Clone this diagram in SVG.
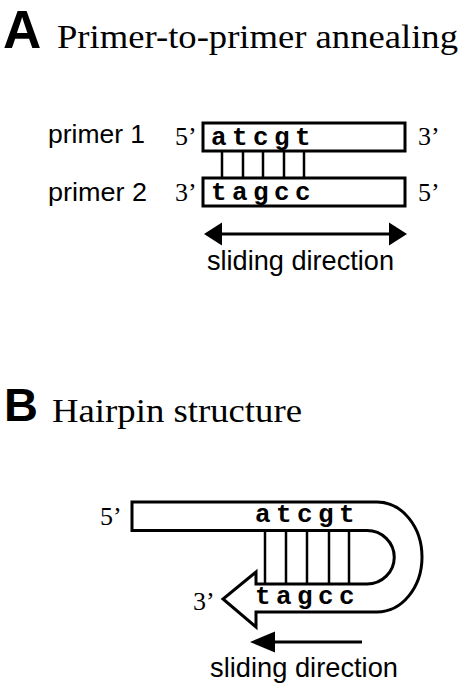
<svg xmlns="http://www.w3.org/2000/svg" width="476" height="692" viewBox="0 0 476 692">
<style>
.hd{font-family:"Liberation Sans",Arial,sans-serif;font-weight:bold;fill:#000}
.ti{font-family:"Liberation Serif","Times New Roman",serif;fill:#000}
.lb{font-family:"Liberation Sans",Arial,sans-serif;fill:#000}
.sq{font-family:"Liberation Mono","Courier New",monospace;font-weight:bold;font-size:26px;letter-spacing:5.4px;fill:#000}
.end{font-family:"Liberation Serif","Times New Roman",serif;font-size:26px;fill:#000}
.box{fill:#fff;stroke:#000;stroke-width:3}
.bond{stroke:#000;stroke-width:2.5}
.arr{stroke:#000;stroke-width:3;fill:none}
.head{fill:#000}
</style>
<rect width="476" height="692" fill="#fff"/>
<g id="panelA-title">
<text class="hd" x="3" y="48" font-size="53">A</text>
<text class="ti" x="57" y="48" font-size="34" textLength="401" lengthAdjust="spacingAndGlyphs">Primer-to-primer annealing</text>
</g>
<g id="primer1">
<text class="lb" x="48" y="143" font-size="26" textLength="97" lengthAdjust="spacingAndGlyphs">primer 1</text>
<text class="end" x="175" y="145">5’</text>
<rect class="box" x="203" y="123" width="202" height="28"/>
<text class="sq" x="211" y="145">atcgt</text>
<text class="end" x="418" y="145">3’</text>
</g>
<g id="primer2">
<text class="lb" x="48" y="201" font-size="26" textLength="99" lengthAdjust="spacingAndGlyphs">primer 2</text>
<text class="end" x="175" y="201">3’</text>
<rect class="box" x="203" y="178" width="202" height="28"/>
<text class="sq" x="211" y="200">tagcc</text>
<text class="end" x="418" y="201">5’</text>
</g>
<g id="connectorsA">
<line class="bond" x1="222" y1="151" x2="222" y2="178"/>
<line class="bond" x1="243" y1="151" x2="243" y2="178"/>
<line class="bond" x1="263" y1="151" x2="263" y2="178"/>
<line class="bond" x1="284" y1="151" x2="284" y2="178"/>
<line class="bond" x1="304" y1="151" x2="304" y2="178"/>
<line class="arr" x1="218" y1="234" x2="393" y2="234"/>
<polygon class="head" points="204,234 222,222.5 222,245.5"/>
<polygon class="head" points="407,234 389,222.5 389,245.5"/>
</g>
<g id="slidingA">
<text class="lb" x="207" y="270" font-size="28" textLength="187" lengthAdjust="spacingAndGlyphs">sliding direction</text>
</g>
<g id="panelB-title">
<text class="hd" x="4" y="421" font-size="47">B</text>
<text class="ti" x="52" y="422" font-size="34" textLength="250" lengthAdjust="spacingAndGlyphs">Hairpin structure</text>
</g>
<g id="hairpin">
<text class="end" x="100" y="525">5’</text>
<path class="box" d="M132,502 H377 A45,55 0 0 1 377,612 H256 V627 L223,599 L256,572 V584 H367 A27,26.5 0 0 0 367,530.5 H132 Z"/>
<text class="sq" x="255" y="522">atcgt</text>
<text class="sq" x="255" y="604">tagcc</text>
<text class="end" x="193" y="610">3’</text>
</g>
<g id="connectorsB">
<line class="bond" x1="265" y1="530" x2="265" y2="584"/>
<line class="bond" x1="286" y1="530" x2="286" y2="584"/>
<line class="bond" x1="307" y1="530" x2="307" y2="584"/>
<line class="bond" x1="329" y1="530" x2="329" y2="584"/>
<line class="bond" x1="349" y1="530" x2="349" y2="584"/>
<line class="arr" x1="270" y1="642" x2="362" y2="642"/>
<polygon class="head" points="250,642 275,631.5 275,652.5"/>
</g>
<g id="slidingB">
<text class="lb" x="210" y="677" font-size="28" textLength="188" lengthAdjust="spacingAndGlyphs">sliding direction</text>
</g>
</svg>
